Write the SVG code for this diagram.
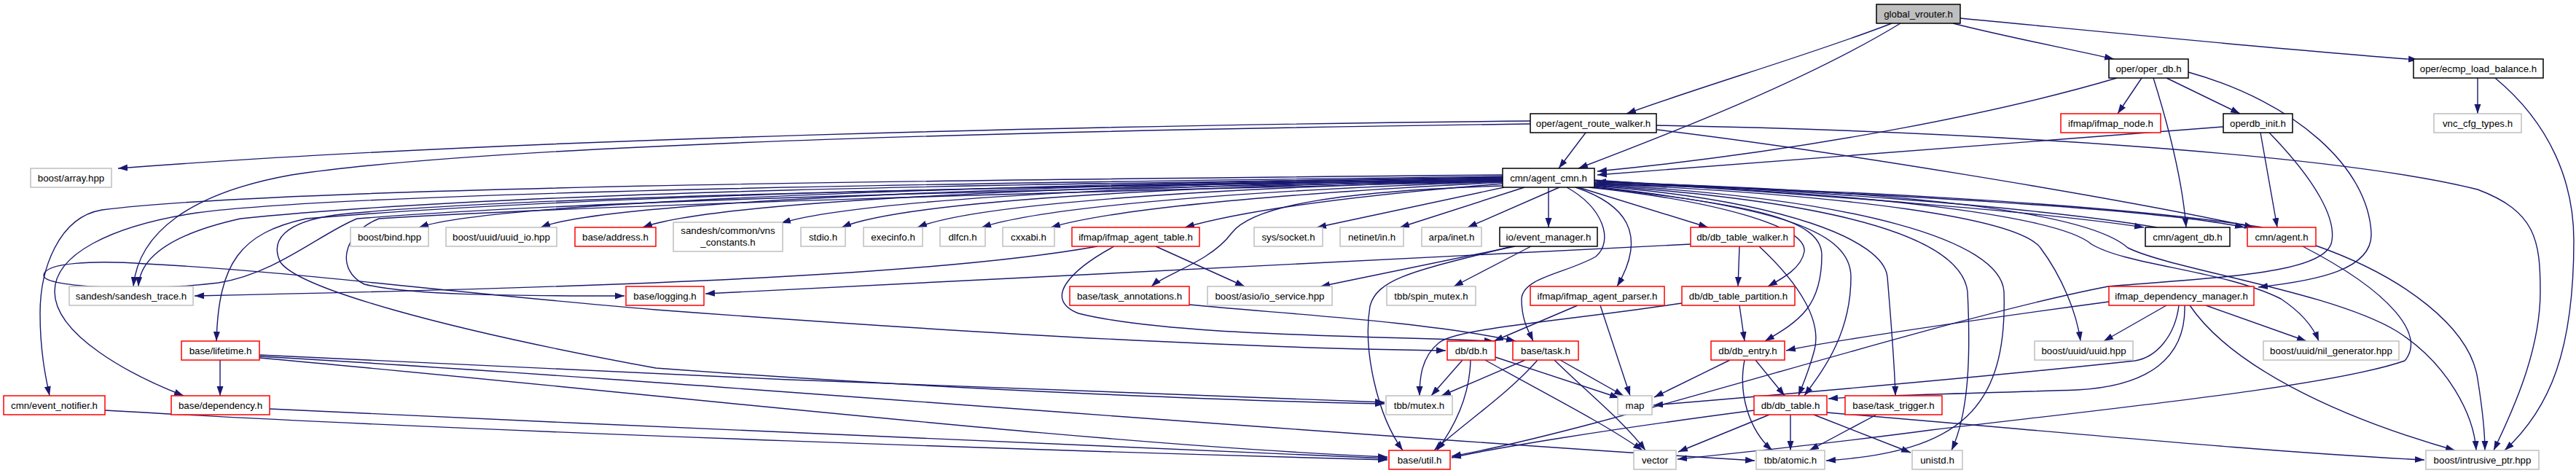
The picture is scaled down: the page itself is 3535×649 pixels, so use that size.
<svg xmlns="http://www.w3.org/2000/svg" width="3535" height="649" viewBox="0 0 3535 649">
<style>
.node rect{fill:#fff;stroke-width:1.5}
.r rect{stroke:#ff0000}
.g rect{stroke:#bfbfbf}
.k rect{stroke:#000}
.node text{font-family:"Liberation Sans",Arial,Helvetica,sans-serif;font-size:13.3px;text-anchor:middle;fill:#000}
#edges path{fill:none;stroke:#191970;stroke-width:1.4;marker-end:url(#a)}
</style>
<defs>
<marker id="a" markerUnits="userSpaceOnUse" markerWidth="14" markerHeight="10" refX="13" refY="5" orient="auto">
<path d="M0,0.5 L13,5 L0,9.5 z" fill="#191970"/>
</marker>
</defs>
<rect width="3535" height="649" fill="#fff"/>
<g id="edges">
<path d="M2596,32 C2500,70 2330,120 2232,156"/>
<path d="M2608,32 C2480,110 2300,180 2166,231"/>
<path d="M2680,32 C2750,50 2830,65 2901,81"/>
<path d="M2690,25 C2900,45 3150,70 3318,82"/>
<path d="M2905,107 C2760,150 2500,205 2192,235"/>
<path d="M2939,107 L2906,156"/>
<path d="M2955,107 C2978,180 2995,250 3000,312"/>
<path d="M2973,107 L3074,156"/>
<path d="M3003,99 C3150,140 3250,230 3254,320 C3256,370 3180,385 3099,394"/>
<path d="M3400,107 L3400,156"/>
<path d="M3424,107 C3500,170 3532,250 3532,330 C3532,480 3500,560 3437,618"/>
<path d="M2176,182 L2139,231"/>
<path d="M2100,166 C1500,172 700,190 162,231"/>
<path d="M2100,170 C1500,178 700,195 400,240 C260,265 190,320 183,393"/>
<path d="M2274,178 C2500,205 2900,270 3093,312"/>
<path d="M2273,172 C2700,180 3200,210 3400,260 C3480,290 3486,330 3486,400 C3486,480 3450,560 3422,618"/>
<path d="M3051,174 C2700,200 2400,225 2192,240"/>
<path d="M3102,182 L3125,312"/>
<path d="M3114,182 C3180,250 3205,300 3200,330 C3195,375 3050,380 2893,393 C2650,440 2200,590 1992,626"/>
<path d="M2062,243 C1700,248 700,268 575,312"/>
<path d="M2062,244 C1700,249 850,268 742,312"/>
<path d="M2062,245 C1700,250 1000,268 882,312"/>
<path d="M2062,246 C1700,251 1200,268 1072,306"/>
<path d="M2062,247 C1700,253 1250,272 1155,312"/>
<path d="M2062,248 C1750,255 1350,275 1259,312"/>
<path d="M2062,249 C1800,258 1450,278 1347,312"/>
<path d="M2062,250 C1850,261 1550,280 1442,312"/>
<path d="M2062,252 C1900,265 1720,285 1626,312"/>
<path d="M2064,257 L1807,312"/>
<path d="M2092,257 L1921,312"/>
<path d="M2140,257 L2014,312"/>
<path d="M2125,257 L2125,312"/>
<path d="M2166,257 L2344,312"/>
<path d="M2062,255 C1850,262 1720,280 1690,320 C1660,360 1600,375 1580,393"/>
<path d="M2062,240 C1400,246 400,255 140,288 C80,298 55,370 55,430 C55,480 62,515 68,543"/>
<path d="M2062,242 C1400,250 500,262 270,292 C150,310 75,350 75,400 C75,460 180,515 252,543"/>
<path d="M2062,244 C1400,252 700,262 330,300 C240,320 192,350 190,393"/>
<path d="M2062,246 C1400,255 800,268 420,300 C330,320 300,360 297,468"/>
<path d="M2062,247 C1500,255 700,268 460,295 C390,305 370,330 385,360 C410,395 600,450 900,505 C1300,535 1700,550 1900,554"/>
<path d="M2062,248 C1500,258 800,275 490,300 C440,320 380,375 300,388 C200,400 60,395 60,378 C60,360 130,357 200,362 C400,372 600,400 900,425 C1300,455 1700,478 1984,481"/>
<path d="M2062,249 C1500,262 800,282 520,300 C470,320 460,370 500,390 C560,405 700,406 857,406"/>
<path d="M2188,247 C2500,268 2800,290 2942,312"/>
<path d="M2188,248 C2600,268 2950,285 3080,312"/>
<path d="M2960,312 C2800,285 2500,262 2191,249"/>
<path d="M3105,312 C2900,280 2500,258 2191,253"/>
<path d="M2162,257 C2230,280 2262,320 2219,393"/>
<path d="M2150,257 C2200,285 2215,330 2190,352 C2150,375 2090,380 2088,410 C2088,440 2098,455 2104,468"/>
<path d="M2180,257 C2350,275 2480,310 2476,345 C2472,370 2440,385 2426,393"/>
<path d="M2186,257 C2400,280 2500,300 2500,350 C2500,420 2470,440 2422,468"/>
<path d="M2188,256 C2450,285 2540,320 2540,380 C2540,460 2500,510 2476,543"/>
<path d="M2188,255 C2450,275 2585,330 2590,380 C2595,440 2600,500 2601,543"/>
<path d="M2188,254 C2500,275 2690,320 2700,400 C2705,500 2700,570 2678,618"/>
<path d="M2188,253 C2550,272 2745,330 2750,400 C2755,560 2690,620 2506,632"/>
<path d="M2188,252 C2550,268 2770,300 2800,340 C2830,380 2850,430 2855,468"/>
<path d="M2188,251 C2600,265 2830,300 2870,335 C2920,365 3050,370 3130,410 C3160,430 3175,450 3182,468"/>
<path d="M2188,250 C2650,262 2870,295 2920,340 C2980,370 3200,400 3290,455 C3360,500 3395,570 3398,618"/>
<path d="M3178,337 C3300,380 3390,450 3400,520 C3408,570 3410,600 3410,618"/>
<path d="M3160,338 C3280,400 3330,460 3300,495 C3200,530 2900,560 2650,590 C2500,610 2350,625 2302,630"/>
<path d="M2894,414 C2700,440 2500,470 2451,481"/>
<path d="M2990,419 C2985,460 2960,490 2930,495 C2700,520 2400,545 2269,556"/>
<path d="M2998,419 C3000,490 2950,530 2850,535 C2700,540 2560,543 2509,547"/>
<path d="M2973,419 L2887,468"/>
<path d="M3027,419 L3165,468"/>
<path d="M3005,419 C3060,500 3200,570 3369,618"/>
<path d="M1506,338 C1300,375 900,393 267,406"/>
<path d="M1586,338 L1708,393"/>
<path d="M1529,338 C1470,370 1430,410 1480,430 C1600,460 1850,460 2050,468"/>
<path d="M1632,418 C1750,430 1950,440 2080,468"/>
<path d="M2079,338 L1812,393"/>
<path d="M2101,338 L1995,393"/>
<path d="M2075,338 C1950,370 1890,380 1880,420 C1870,480 1890,570 1925,618"/>
<path d="M2320,335 C1800,360 1300,385 968,403"/>
<path d="M2387,338 L2385,393"/>
<path d="M2414,338 C2470,390 2500,440 2490,480 C2482,510 2475,525 2468,543"/>
<path d="M2165,419 L2050,468"/>
<path d="M2196,419 L2237,543"/>
<path d="M2387,419 L2394,468"/>
<path d="M2308,416 C2150,440 2000,450 1975,470 C1950,490 1948,520 1948,543"/>
<path d="M2007,494 L1964,543"/>
<path d="M2018,494 C2017,540 2000,580 1972,618"/>
<path d="M2052,490 L2222,546"/>
<path d="M2038,494 C2120,540 2200,580 2254,618"/>
<path d="M2093,494 L1978,543"/>
<path d="M2110,494 C2070,540 2010,580 1968,618"/>
<path d="M2141,494 L2228,543"/>
<path d="M2133,494 C2180,540 2230,580 2258,618"/>
<path d="M2374,494 L2270,545"/>
<path d="M2409,494 L2449,543"/>
<path d="M2394,494 C2385,540 2400,590 2432,618"/>
<path d="M2407,563 C2200,590 2050,615 1992,628"/>
<path d="M2428,569 L2303,620"/>
<path d="M2457,569 L2457,618"/>
<path d="M2489,569 L2622,621"/>
<path d="M2507,566 C2800,590 3100,620 3327,631"/>
<path d="M2575,569 L2483,618"/>
<path d="M302,494 L302,543"/>
<path d="M356,487 C800,510 1500,540 1900,552"/>
<path d="M356,489 C900,520 1800,595 2408,632"/>
<path d="M356,491 C900,540 1500,610 1904,627"/>
<path d="M370,561 C900,585 1500,615 1904,629"/>
<path d="M144,563 C700,595 1500,620 1904,631"/>
</g>
<g id="n_global_vrouter" class="node k"><rect x="2575" y="6" width="115" height="26" style="fill:#bfbfbf"/><text x="2632.5" y="23.5">global_vrouter.h</text></g>
<g id="n_oper_db" class="node k"><rect x="2894" y="81" width="109" height="26"/><text x="2948.5" y="98.5">oper/oper_db.h</text></g>
<g id="n_ecmp" class="node k"><rect x="3312" y="81" width="178" height="26"/><text x="3401" y="98.5">oper/ecmp_load_balance.h</text></g>
<g id="n_agent_route_walker" class="node k"><rect x="2100" y="156" width="173" height="26"/><text x="2186.5" y="173.5">oper/agent_route_walker.h</text></g>
<g id="n_ifmap_node" class="node r"><rect x="2828" y="156" width="137" height="26"/><text x="2896.5" y="173.5">ifmap/ifmap_node.h</text></g>
<g id="n_operdb_init" class="node k"><rect x="3051" y="156" width="95" height="26"/><text x="3098.5" y="173.5">operdb_init.h</text></g>
<g id="n_vnc_cfg_types" class="node g"><rect x="3340" y="156" width="120" height="26"/><text x="3400" y="173.5">vnc_cfg_types.h</text></g>
<g id="n_boost_array" class="node g"><rect x="42" y="231" width="111" height="26"/><text x="97.5" y="248.5">boost/array.hpp</text></g>
<g id="n_agent_cmn" class="node k"><rect x="2062" y="231" width="126" height="26"/><text x="2125" y="248.5">cmn/agent_cmn.h</text></g>
<g id="n_boost_bind" class="node g"><rect x="481" y="312" width="107" height="26"/><text x="534.5" y="329.5">boost/bind.hpp</text></g>
<g id="n_uuid_io" class="node g"><rect x="612" y="312" width="152" height="26"/><text x="688" y="329.5">boost/uuid/uuid_io.hpp</text></g>
<g id="n_address" class="node r"><rect x="789" y="312" width="111" height="26"/><text x="844.5" y="329.5">base/address.h</text></g>
<g id="n_vns_constants" class="node g"><rect x="924" y="305" width="150" height="40"/><text x="999" y="321">sandesh/common/vns</text><text x="999" y="337">_constants.h</text></g>
<g id="n_stdio" class="node g"><rect x="1099" y="312" width="61" height="26"/><text x="1129.5" y="329.5">stdio.h</text></g>
<g id="n_execinfo" class="node g"><rect x="1185" y="312" width="81" height="26"/><text x="1225.5" y="329.5">execinfo.h</text></g>
<g id="n_dlfcn" class="node g"><rect x="1290" y="312" width="62" height="26"/><text x="1321" y="329.5">dlfcn.h</text></g>
<g id="n_cxxabi" class="node g"><rect x="1376" y="312" width="71" height="26"/><text x="1411.5" y="329.5">cxxabi.h</text></g>
<g id="n_ifmap_agent_table" class="node r"><rect x="1471" y="312" width="175" height="26"/><text x="1558.5" y="329.5">ifmap/ifmap_agent_table.h</text></g>
<g id="n_socket" class="node g"><rect x="1721" y="312" width="94" height="26"/><text x="1768" y="329.5">sys/socket.h</text></g>
<g id="n_netinet" class="node g"><rect x="1839" y="312" width="87" height="26"/><text x="1882.5" y="329.5">netinet/in.h</text></g>
<g id="n_arpa" class="node g"><rect x="1951" y="312" width="82" height="26"/><text x="1992" y="329.5">arpa/inet.h</text></g>
<g id="n_event_manager" class="node k"><rect x="2058" y="312" width="134" height="26"/><text x="2125" y="329.5">io/event_manager.h</text></g>
<g id="n_db_table_walker" class="node r"><rect x="2320" y="312" width="142" height="26"/><text x="2391" y="329.5">db/db_table_walker.h</text></g>
<g id="n_agent_db" class="node k"><rect x="2944" y="312" width="116" height="26"/><text x="3002" y="329.5">cmn/agent_db.h</text></g>
<g id="n_agent" class="node r"><rect x="3084" y="312" width="94" height="26"/><text x="3131" y="329.5">cmn/agent.h</text></g>
<g id="n_sandesh_trace" class="node g"><rect x="95" y="393" width="170" height="26"/><text x="180" y="410.5">sandesh/sandesh_trace.h</text></g>
<g id="n_logging" class="node r"><rect x="859" y="393" width="107" height="26"/><text x="912.5" y="410.5">base/logging.h</text></g>
<g id="n_task_annotations" class="node r"><rect x="1468" y="393" width="164" height="26"/><text x="1550" y="410.5">base/task_annotations.h</text></g>
<g id="n_io_service" class="node g"><rect x="1657" y="393" width="171" height="26"/><text x="1742.5" y="410.5">boost/asio/io_service.hpp</text></g>
<g id="n_spin_mutex" class="node g"><rect x="1903" y="393" width="122" height="26"/><text x="1964" y="410.5">tbb/spin_mutex.h</text></g>
<g id="n_ifmap_agent_parser" class="node r"><rect x="2100" y="393" width="184" height="26"/><text x="2192" y="410.5">ifmap/ifmap_agent_parser.h</text></g>
<g id="n_db_table_partition" class="node r"><rect x="2308" y="393" width="155" height="26"/><text x="2385.5" y="410.5">db/db_table_partition.h</text></g>
<g id="n_ifmap_dependency_manager" class="node r"><rect x="2894" y="393" width="199" height="26"/><text x="2993.5" y="410.5">ifmap_dependency_manager.h</text></g>
<g id="n_lifetime" class="node r"><rect x="249" y="468" width="107" height="26"/><text x="302.5" y="485.5">base/lifetime.h</text></g>
<g id="n_db" class="node r"><rect x="1986" y="468" width="66" height="26"/><text x="2019" y="485.5">db/db.h</text></g>
<g id="n_task" class="node r"><rect x="2076" y="468" width="90" height="26"/><text x="2121" y="485.5">base/task.h</text></g>
<g id="n_db_entry" class="node r"><rect x="2348" y="468" width="101" height="26"/><text x="2398.5" y="485.5">db/db_entry.h</text></g>
<g id="n_uuid" class="node g"><rect x="2792" y="468" width="135" height="26"/><text x="2859.5" y="485.5">boost/uuid/uuid.hpp</text></g>
<g id="n_nil_generator" class="node g"><rect x="3106" y="468" width="186" height="26"/><text x="3199" y="485.5">boost/uuid/nil_generator.hpp</text></g>
<g id="n_event_notifier" class="node r"><rect x="5" y="543" width="139" height="26"/><text x="74.5" y="560.5">cmn/event_notifier.h</text></g>
<g id="n_dependency" class="node r"><rect x="235" y="543" width="135" height="26"/><text x="302.5" y="560.5">base/dependency.h</text></g>
<g id="n_mutex" class="node g"><rect x="1902" y="543" width="91" height="26"/><text x="1947.5" y="560.5">tbb/mutex.h</text></g>
<g id="n_map" class="node g"><rect x="2220" y="543" width="47" height="26"/><text x="2243.5" y="560.5">map</text></g>
<g id="n_db_table" class="node r"><rect x="2407" y="543" width="100" height="26"/><text x="2457" y="560.5">db/db_table.h</text></g>
<g id="n_task_trigger" class="node r"><rect x="2532" y="543" width="133" height="26"/><text x="2598.5" y="560.5">base/task_trigger.h</text></g>
<g id="n_util" class="node r"><rect x="1906" y="618" width="84" height="26"/><text x="1948" y="635.5">base/util.h</text></g>
<g id="n_vector" class="node g"><rect x="2242" y="618" width="58" height="26"/><text x="2271" y="635.5">vector</text></g>
<g id="n_atomic" class="node g"><rect x="2410" y="618" width="94" height="26"/><text x="2457" y="635.5">tbb/atomic.h</text></g>
<g id="n_unistd" class="node g"><rect x="2624" y="618" width="69" height="26"/><text x="2658.5" y="635.5">unistd.h</text></g>
<g id="n_intrusive_ptr" class="node g"><rect x="3329" y="618" width="155" height="26"/><text x="3406.5" y="635.5">boost/intrusive_ptr.hpp</text></g>
</svg>
